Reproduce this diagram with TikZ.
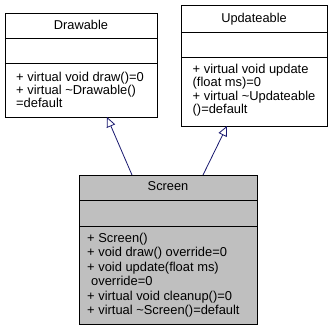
\documentclass[tikz,border=0pt]{standalone}
\usepackage{fontspec}
\usetikzlibrary{arrows.meta}
\newfontfamily\umlfont{Liberation Sans}
\definecolor{navyline}{HTML}{191970}
\definecolor{activefill}{HTML}{BFBFBF}
\tikzset{
  umlbox/.style={draw=black, line width=0.8pt, inner sep=0pt, anchor=north west},
  sepline/.style={draw=black, line width=0.8pt},
  classtitle/.style={anchor=base, inner sep=0pt, font=\umlfont\fontsize{12.8}{14}\selectfont},
  member/.style={anchor=base west, inner sep=0pt, font=\umlfont\fontsize{12.9}{14}\selectfont},
  inherit/.style={draw=navyline, line width=0.8pt, -{Triangle[open, length=10pt, width=9pt]}},
}
\begin{document}
\begin{tikzpicture}[x=1pt, y=-1pt]
  \useasboundingbox (0,0) rectangle (333,331);
  \fill[white] (0,0) rectangle (333,331);

  % class Drawable
  \node[umlbox, minimum width=152pt, minimum height=104pt] (drawable) at (5,13) {};
  \draw[sepline] (5,38) -- (157,38);
  \draw[sepline] (5,63) -- (157,63);
  \node[classtitle] (drawableT) at (81,29.5) {Drawable};
  \node[member] (d1) at (16,81.5) {+ virtual void draw()=0};
  \node[member] (d2) at (16,94.5) {+ virtual \textasciitilde Drawable()};
  \node[member] (d3) at (16,107.5) {=default};

  % class Updateable
  \node[umlbox, minimum width=146pt, minimum height=121pt] (updateable) at (181,5) {};
  \draw[sepline] (181,32) -- (327,32);
  \draw[sepline] (181,57) -- (327,57);
  \node[classtitle] (updateableT) at (254,22.5) {Updateable};
  \node[member] (u1) at (192.5,73.5) {+ virtual void update};
  \node[member] (u2) at (192.5,87) {(float ms)=0};
  \node[member] (u3) at (192.5,100.5) {+ virtual \textasciitilde Updateable};
  \node[member] (u4) at (192.5,114) {()=default};

  % class Screen
  \node[umlbox, fill=activefill, minimum width=178pt, minimum height=149pt] (screen) at (79,175) {};
  \draw[sepline] (79,200) -- (257,200);
  \draw[sepline] (79,226) -- (257,226);
  \node[classtitle] (screenT) at (168,191) {Screen};
  \node[member] (s1) at (87,242.5) {+ Screen()};
  \node[member] (s2) at (87,257) {+ void draw() override=0};
  \node[member] (s3) at (87,271.5) {+ void update(float ms)};
  \node[member] (s4) at (91,286) {override=0};
  \node[member] (s5) at (87,300.5) {+ virtual void cleanup()=0};
  \node[member] (s6) at (87,315) {+ virtual \textasciitilde Screen()=default};

  % inheritance connectors
  \coordinate (screenA) at (132,175);
  \coordinate (screenB) at (203,175);
  \coordinate (drawableTip) at (107,117);
  \coordinate (updateableTip) at (227,126);
  \draw[inherit] (screenA) -- (drawableTip);
  \draw[inherit] (screenB) -- (updateableTip);
\end{tikzpicture}
\end{document}
